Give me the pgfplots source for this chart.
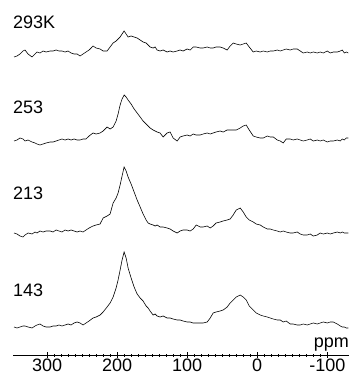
\documentclass[border=0pt]{standalone}
\usepackage{pgfplots}
\usepackage{pgfplotstable}
\pgfplotsset{compat=1.18}
\usepackage{fontspec}
\setmainfont{Liberation Sans}
\pgfplotstableread{
ppm a b c d
347.1 298 214 122 28
342.9 299 215 121 27
338.6 301 217 119 28
334.3 304 216 118 29
331.4 305 214 120 29
327.1 301 215 122 28
321.4 298 213 121 27
317.1 301 212 123 29
314.3 303 211 122 30
310.0 302 210 124 31
305.7 304 211 123 29
301.4 303 212 124 28
295.7 304 213 124 28
291.4 304 213 123 29
287.1 305 214 125 29
282.9 304 215 124 30
278.6 304 216 123 29
274.3 303 215 125 30
270.0 304 216 124 31
265.7 302 215 125 30
261.4 301 216 124 32
257.1 301 215 123 33
252.9 299 215 124 32
248.6 301 216 123 30
244.3 303 216 125 32
240.0 305 219 127 34
234.3 309 222 129 37
230.0 307 221 130 38
224.3 306 222 131 40
220.0 304 224 137 43
214.3 304 228 139 48
210.0 308 226 141 52
205.7 312 228 152 58
201.4 314 234 157 67
198.6 316 241 162 75
195.7 318 250 170 85
192.9 321 256 179 95
190.0 324 260 188 103
187.1 321 258 184 97
184.3 318 255 178 87
180.0 319 251 171 77
175.7 318 246 163 68
171.4 317 242 155 61
167.1 315 238 148 57
162.9 313 234 141 54
158.6 312 231 135 49
155.7 310 229 132 47
152.9 308 227 131 44
148.6 307 225 130 40
145.7 308 224 129 41
142.9 305 223 130 39
138.6 304 222 128 38
134.3 305 218 128 39
128.6 303 222 127 37
124.3 304 223 126 37
120.0 303 217 124 36
114.3 304 214 122 35
110.0 305 218 124 35
105.7 304 219 125 34
100.0 306 220 125 33
95.7 305 219 124 33
91.4 308 221 126 32
87.1 308 220 130 32
81.4 307 220 128 32
77.1 307 221 128 32
71.4 308 222 129 33
67.1 307 221 127 37
62.9 307 222 129 42
58.6 308 223 132 43
52.9 308 224 133 44
48.6 307 223 134 45
42.9 305 225 135 48
38.6 309 225 136 52
34.3 312 225 140 55
30.0 311 225 145 58
24.3 310 227 147 60
20.0 311 229 143 58
15.7 312 230 138 55
11.4 308 225 135 49
5.7 303 219 133 45
1.4 304 218 131 42
-4.3 303 217 130 40
-8.6 304 217 128 39
-14.3 303 219 126 38
-18.6 304 218 126 37
-22.9 304 218 125 36
-28.6 305 215 124 35
-32.9 304 214 123 35
-37.1 305 212 124 33
-41.4 306 216 123 34
-47.1 305 216 122 31
-51.4 306 215 122 31
-57.1 306 216 123 30
-61.4 304 215 121 30
-65.7 302 214 120 31
-71.4 303 215 120 30
-75.7 302 216 121 31
-80.0 303 214 119 32
-85.7 302 215 120 31
-90.0 303 214 122 32
-94.3 302 215 121 33
-100.0 304 213 122 32
-104.3 302 214 121 33
-108.6 303 214 122 33
-114.3 303 215 123 31
-118.6 304 214 122 29
-121.4 305 216 123 28
-124.3 302 215 122 28
-127.1 303 217 122 27
-130.0 302 217 122 27
}\spectra
\begin{document}
\begin{tikzpicture}
\begin{axis}[
  width=336pt, height=355pt, scale only axis,
  xmin=-131, xmax=348.6, x dir=reverse,
  ymin=0, ymax=355,
  hide y axis,
  axis x line*=bottom,
  x axis line style={-, line width=0.8pt},
  xtick={-100,0,100,200,300},
  minor x tick num=9,
  tick align=center,
  major tick length=6pt,
  minor tick length=3pt,
  tick style={black, line width=0.6pt},
  /pgf/number format/assume math mode=true,
  xticklabel style={font=\fontsize{18}{20}\selectfont, inner sep=1pt},
  clip=false,
]
\addplot[black, line width=0.6pt] table[x=ppm, y=a] {\spectra};
\addplot[black, line width=0.6pt] table[x=ppm, y=b] {\spectra};
\addplot[black, line width=0.6pt] table[x=ppm, y=c] {\spectra};
\addplot[black, line width=0.6pt] table[x=ppm, y=d] {\spectra};
\node[anchor=west, inner sep=0pt, font=\fontsize{18}{20}\selectfont] at (axis cs:348.6,333) {293K};
\node[anchor=west, inner sep=0pt, font=\fontsize{18}{20}\selectfont] at (axis cs:348.6,248) {253};
\node[anchor=west, inner sep=0pt, font=\fontsize{18}{20}\selectfont] at (axis cs:348.6,162) {213};
\node[anchor=west, inner sep=0pt, font=\fontsize{18}{20}\selectfont] at (axis cs:348.6,65) {143};
\node[anchor=base east, inner sep=0pt, font=\fontsize{18}{20}\selectfont] at (axis cs:-131,8) {ppm};
\end{axis}
\pgfresetboundingbox
\path ([xshift=-13pt, yshift=-21pt]current axis.south west) rectangle (current axis.north east);
\end{tikzpicture}
\end{document}
